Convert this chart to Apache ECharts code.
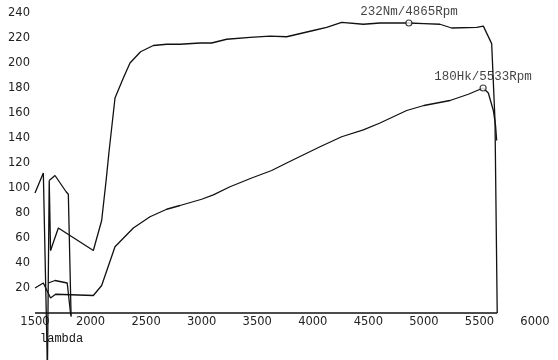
<!DOCTYPE html>
<html>
<head>
<meta charset="utf-8">
<script src="https://cdn.jsdelivr.net/npm/echarts@6/dist/echarts.min.js"></script>
<style>html,body{margin:0;padding:0;background:#fff;}#c{width:558px;height:360px;}</style>
</head>
<body>
<div id="c"></div>
<script>
// ---- data (rpm, value) ----
var xTicks = [1500, 2000, 2500, 3000, 3500, 4000, 4500, 5000, 5500, 6000];
var yTicks = [20, 40, 60, 80, 100, 120, 140, 160, 180, 200, 220, 240];

// torque (Nm) main curve
var torqueRpm = [1640,1710,2025,2100,2140,2165,2220,2295,2355,2450,2565,2685,2805,2985,3090,3225,3435,3615,3765,4005,4125,4260,4455,4605,4865,5000,5145,5250,5475,5535,5610,5640,5660];
var torqueNm  = [50,68,50,74,106,128,172,188,200,209,214,215,215,216,216,219,220.5,221.5,221,226,228.5,232.5,231,232,232,231.5,231,228,228.5,229.5,215.5,154,0];
// start-up strands of the torque trace
var torqueStartRpmA = [1500,1575,1612];
var torqueStartNmA  = [96,112,-45];
var torqueStartRpmB = [1612,1628,1640];
var torqueStartNmB  = [-45,106,50];
var torqueStartRpmC = [1628,1680,1780,1800,1825];
var torqueStartNmC  = [106,110,97,95,-3];

// power (Hk) main curve
var powerRpm = [1500,1575,1640,1685,2025,2100,2220,2385,2535,2685,2805,3000,3105,3255,3450,3630,3765,4065,4260,4455,4605,4845,5000,5235,5400,5533,5580,5625,5645,5655];
var powerHk  = [20,24,12,15,14,22,53,68,77,83,86,91,94.5,101,108,114,120,133,141,146.5,152,162,166,170,175,180,176,162,150,138];
var powerStartRpmB = [1620,1680,1790,1800,1822];
var powerStartHkB  = [24,26,24,23,-2];

var baseRpm = [1500, 5660];
var baseVal = [0, 0];

var peakTorque = [4865, 232];
var peakPower = [5533, 180];
var lambdaLabel = 'lambda';

function pairs(xs, ys){ return xs.map(function(x,i){ return [x, ys[i]]; }); }

var lineStyle = {color:'#111', width:1.3};
function lineSeries(data){
  return {type:'line', data:data, symbol:'none', clip:false, lineStyle:lineStyle, animation:false, silent:true, z:3};
}

var chart = echarts.init(document.getElementById('c'), null, {renderer:'canvas'});
chart.setOption({
  backgroundColor:'#fff',
  animation:false,
  grid:{left:35, right:23, top:13, bottom:47, containLabel:false},
  xAxis:{type:'value', min:1500, max:6000, interval:500,
    axisLine:{show:false}, axisTick:{show:false}, splitLine:{show:false},
    axisLabel:{color:'#222', fontFamily:'DejaVu Sans', fontSize:11.5, margin:3,
      formatter:function(v){ return xTicks.indexOf(v)>=0 ? String(v) : ''; }}},
  yAxis:{type:'value', min:0, max:240, interval:20,
    axisLine:{show:false}, axisTick:{show:false}, splitLine:{show:false},
    axisLabel:{color:'#222', fontFamily:'DejaVu Sans', fontSize:11.5, margin:5,
      formatter:function(v){ return yTicks.indexOf(v)>=0 ? String(v) : ''; }}},
  series:[
    lineSeries(pairs(baseRpm, baseVal)),
    lineSeries(pairs(torqueRpm, torqueNm)),
    lineSeries(pairs(torqueStartRpmA, torqueStartNmA)),
    lineSeries(pairs(torqueStartRpmB, torqueStartNmB)),
    lineSeries(pairs(torqueStartRpmC, torqueStartNmC)),
    lineSeries(pairs(powerRpm, powerHk)),
    lineSeries(pairs(powerStartRpmB, powerStartHkB)),
    {type:'scatter', data:[peakTorque, peakPower], symbol:'circle', symbolSize:6,
      itemStyle:{color:'#fff', borderColor:'#111', borderWidth:1.2}, z:5, animation:false,
      label:{show:true, position:'top', distance:1, color:'#111',
        fontFamily:'Liberation Mono', fontSize:12.5,
        formatter:function(p){
          var u = p.dataIndex===0 ? 'Nm' : 'Hk';
          return Math.round(p.value[1]) + u + '/' + p.value[0] + 'Rpm';
        }}}
  ],
  graphic:[{type:'text', left:40, top:333,
    style:{text:lambdaLabel, fill:'#111', font:'12px "Liberation Mono"'}}]
});
</script>
</body>
</html>
